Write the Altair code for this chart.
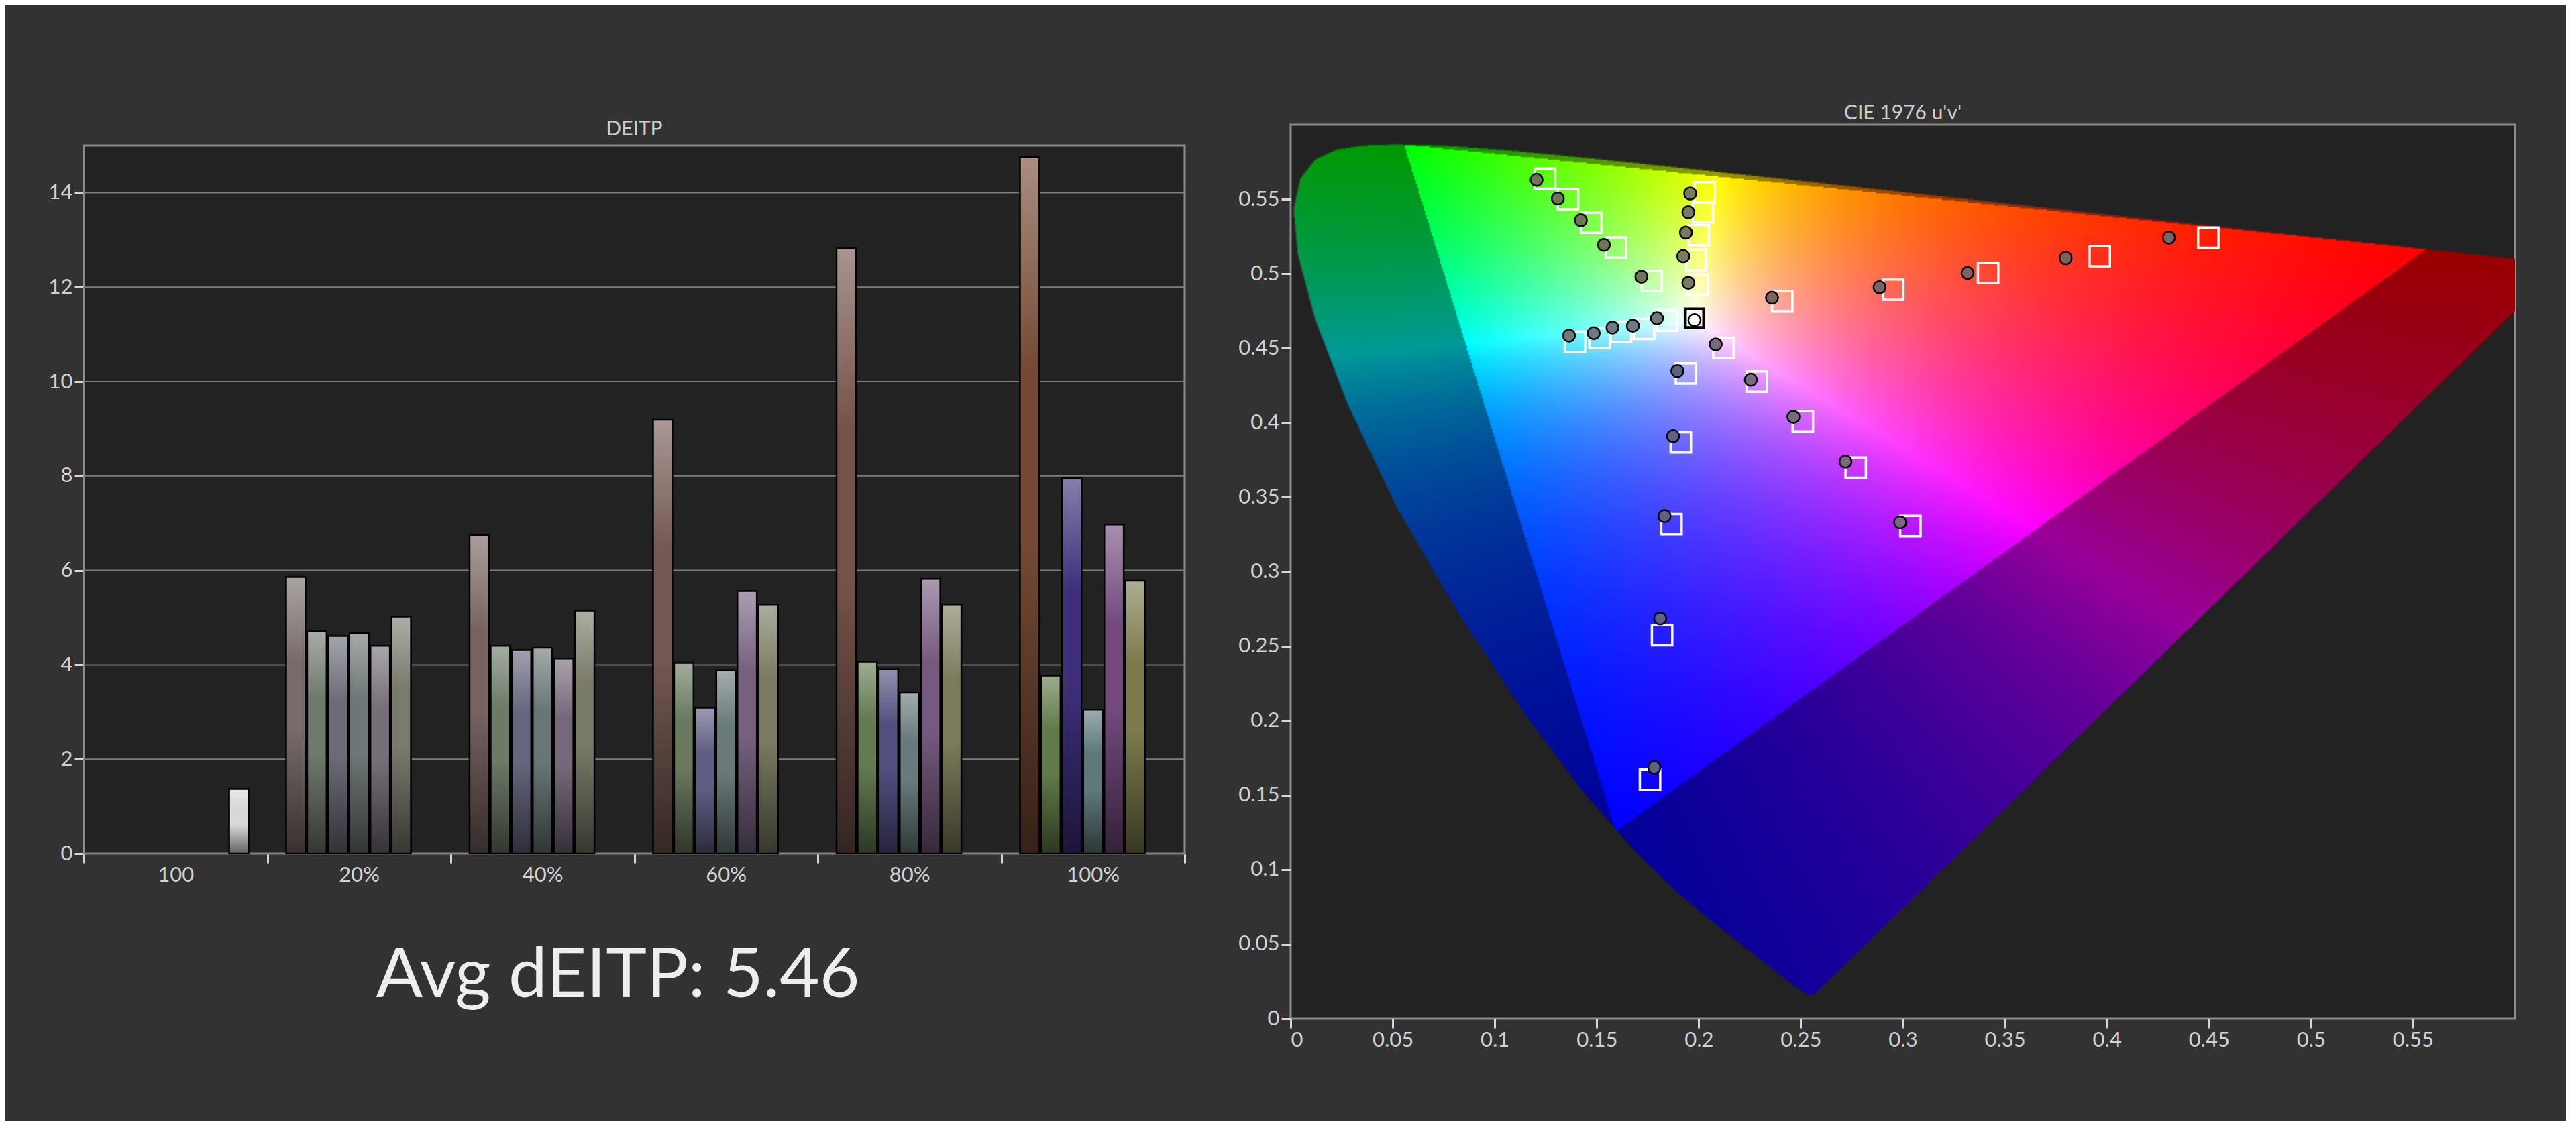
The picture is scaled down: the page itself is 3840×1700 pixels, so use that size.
import numpy as np
import pandas as pd
import altair as alt
import zlib, struct, base64

# ---------------- DEITP bar chart data ----------------
groups = ["100", "20%", "40%", "60%", "80%", "100%"]
series = ["Red", "Green", "Blue", "Cyan", "Magenta", "Yellow", "White"]
sat_groups = ["20%", "40%", "60%", "80%", "100%"]
white_100 = [1.37]
red_vals = [5.86, 6.75, 9.19, 12.83, 14.76]
green_vals = [4.72, 4.40, 4.04, 4.07, 3.77]
blue_vals = [4.61, 4.31, 3.09, 3.91, 7.95]
cyan_vals = [4.67, 4.36, 3.88, 3.41, 3.05]
magenta_vals = [4.40, 4.13, 5.56, 5.82, 6.97]
yellow_vals = [5.02, 5.15, 5.28, 5.28, 5.78]
y_ticks = [0, 2, 4, 6, 8, 10, 12, 14]
avg_label = "Avg dEITP: 5.46"
left_title = "DEITP"
right_title = "CIE 1976 u'v'"

bar_colors = {
    "20%":  ["#786c6a", "#717a6f", "#6c6c78", "#6e7676", "#766e78", "#7a7a6e"],
    "40%":  ["#776260", "#6c7a66", "#66667e", "#6a7676", "#76687a", "#7a7a68"],
    "60%":  ["#745852", "#6a785e", "#605e84", "#6a7a7a", "#766280", "#7a7a62"],
    "80%":  ["#74524a", "#647a52", "#524e80", "#687a7c", "#765a7e", "#7c7c5a"],
    "100%": ["#744a34", "#627a48", "#3e2e7a", "#60787c", "#744a7e", "#7c7a4c"],
}
white_bar_color = "#d8d8d8"

# ---------------- CIE 1976 u'v' data ----------------
uv_ticks = [0, 0.05, 0.1, 0.15, 0.2, 0.25, 0.3, 0.35, 0.4, 0.45, 0.5, 0.55]

red_target_u = [0.2409, 0.2953, 0.3418, 0.3965, 0.4497]
red_target_v = [0.4814, 0.4893, 0.5005, 0.5118, 0.5242]
red_meas_u = [0.2359, 0.2886, 0.3317, 0.3798, 0.4304]
red_meas_v = [0.4839, 0.4909, 0.5005, 0.5105, 0.5242]

green_target_u = [0.1769, 0.1594, 0.1472, 0.1359, 0.1247]
green_target_v = [0.4951, 0.5176, 0.5342, 0.5501, 0.5638]
green_meas_u = [0.1719, 0.1535, 0.1422, 0.1309, 0.1205]
green_meas_v = [0.4980, 0.5193, 0.5359, 0.5505, 0.5630]

blue_target_u = [0.1937, 0.1912, 0.1866, 0.1820, 0.1761]
blue_target_v = [0.4331, 0.3868, 0.3319, 0.2573, 0.1603]
blue_meas_u = [0.1895, 0.1874, 0.1832, 0.1811, 0.1782]
blue_meas_v = [0.4347, 0.3910, 0.3373, 0.2686, 0.1686]

cyan_target_u = [0.1845, 0.1732, 0.1619, 0.1514, 0.1393]
cyan_target_v = [0.4685, 0.4630, 0.4610, 0.4568, 0.4543]
cyan_meas_u = [0.1795, 0.1677, 0.1577, 0.1485, 0.1364]
cyan_meas_v = [0.4701, 0.4651, 0.4639, 0.4601, 0.4585]

magenta_target_u = [0.2121, 0.2284, 0.2510, 0.2769, 0.3037]
magenta_target_v = [0.4501, 0.4276, 0.4010, 0.3698, 0.3306]
magenta_meas_u = [0.2083, 0.2255, 0.2464, 0.2719, 0.2987]
magenta_meas_v = [0.4526, 0.4289, 0.4039, 0.3739, 0.3331]

yellow_target_u = [0.1995, 0.1987, 0.1999, 0.2020, 0.2029]
yellow_target_v = [0.4926, 0.5093, 0.5259, 0.5413, 0.5546]
yellow_meas_u = [0.1949, 0.1924, 0.1937, 0.1949, 0.1958]
yellow_meas_v = [0.4939, 0.5118, 0.5276, 0.5413, 0.5538]

white_target_u = [0.1979]
white_target_v = [0.4701]
white_meas_u = [0.1979]
white_meas_v = [0.4689]

meas_colors = ["#7a6462", "#6e7658", "#5e6280", "#6a7a7e", "#7a6a7e", "#7c7a5e", "#ffffff"]

# CIE 1931 2-degree spectral locus (x, y), 380-700 nm
locus_x = [0.1741, 0.1740, 0.1738, 0.1736, 0.1733, 0.1730, 0.1726, 0.1721, 0.1714, 0.1703,
           0.1689, 0.1669, 0.1644, 0.1611, 0.1566, 0.1510, 0.1440, 0.1355, 0.1241, 0.1096,
           0.0913, 0.0687, 0.0454, 0.0235, 0.0082, 0.0039, 0.0139, 0.0389, 0.0743, 0.1142,
           0.1547, 0.1929, 0.2296, 0.2658, 0.3016, 0.3373, 0.3731, 0.4087, 0.4441, 0.4788,
           0.5125, 0.5448, 0.5752, 0.6029, 0.6270, 0.6482, 0.6658, 0.6801, 0.6915, 0.7006,
           0.7079, 0.7140, 0.7190, 0.7230, 0.7260, 0.7283, 0.7300, 0.7311, 0.7320, 0.7334,
           0.7344, 0.7347]
locus_y = [0.0050, 0.0050, 0.0049, 0.0049, 0.0048, 0.0048, 0.0048, 0.0048, 0.0051, 0.0058,
           0.0069, 0.0086, 0.0109, 0.0138, 0.0177, 0.0227, 0.0297, 0.0399, 0.0578, 0.0868,
           0.1327, 0.2007, 0.2950, 0.4127, 0.5384, 0.6548, 0.7502, 0.8120, 0.8338, 0.8262,
           0.8059, 0.7816, 0.7543, 0.7243, 0.6923, 0.6589, 0.6245, 0.5896, 0.5547, 0.5202,
           0.4866, 0.4544, 0.4242, 0.3965, 0.3725, 0.3514, 0.3340, 0.3197, 0.3083, 0.2993,
           0.2920, 0.2859, 0.2809, 0.2770, 0.2740, 0.2717, 0.2700, 0.2689, 0.2680, 0.2666,
           0.2656, 0.2653]


# ---------------- gamut background image ----------------
def gamut_png(iw, ih, ss=2, umax=0.6, vmax=0.6):
    lx = np.array(locus_x); ly = np.array(locus_y)
    d = -2 * lx + 12 * ly + 3
    lu = 4 * lx / d; lv = 9 * ly / d
    su = (np.arange(iw * ss) + 0.5) / (iw * ss) * umax
    sv = vmax - (np.arange(ih * ss) + 0.5) / (ih * ss) * vmax
    SU, SV = np.meshgrid(su, sv)
    inside = np.zeros(SU.shape, bool)
    n = len(lu); j = n - 1
    for i in range(n):
        ui, vi, uj, vj = lu[i], lv[i], lu[j], lv[j]
        if vi != vj:
            cond = ((vi > SV) != (vj > SV)) & (SU < (uj - ui) * (SV - vi) / (vj - vi) + ui)
            inside ^= cond
        j = i
    cov = inside.reshape(ih, ss, iw, ss).mean(axis=(1, 3))
    pu = (np.arange(iw) + 0.5) / iw * umax
    pv = vmax - (np.arange(ih) + 0.5) / ih * vmax
    U, V = np.meshgrid(pu, pv)
    den = 6 * U - 16 * V + 12
    xx = 9 * U / den
    yy = np.clip(4 * V / den, 1e-4, None)
    X = xx / yy; Z = (1 - xx - yy) / yy
    R = 1.7166512 * X - 0.3556708 - 0.2533663 * Z
    G = -0.6666844 * X + 1.6164812 + 0.0157685 * Z
    B = 0.0176399 * X - 0.0427706 + 0.9421031 * Z
    rgb = np.stack([R, G, B], -1)
    intri = rgb.min(-1) >= 0
    rgb = np.clip(rgb, 0, None)
    mx = rgb.max(-1, keepdims=True)
    mx[mx <= 0] = 1
    rgb = rgb / mx
    rgb[~intri] *= 0.6
    rgba = np.zeros((ih, iw, 4), np.uint8)
    rgba[..., :3] = np.clip(rgb * 255 + 0.5, 0, 255).astype(np.uint8)
    rgba[..., 3] = np.clip(cov * 255 + 0.5, 0, 255).astype(np.uint8)
    raw = b"".join(b"\x00" + rgba[r].tobytes() for r in range(ih))

    def chunk(t, dat):
        c = struct.pack(">I", len(dat)) + t + dat
        return c + struct.pack(">I", zlib.crc32(t + dat) & 0xFFFFFFFF)

    png = (b"\x89PNG\r\n\x1a\n"
           + chunk(b"IHDR", struct.pack(">IIBBBBB", iw, ih, 8, 6, 0, 0, 0))
           + chunk(b"IDAT", zlib.compress(raw, 9))
           + chunk(b"IEND", b""))
    return "data:image/png;base64," + base64.b64encode(png).decode("ascii")


# ---------------- layout constants ----------------
LW = 1641          # left plot width
LTOP = 31          # left frame starts this far below the shared row top
LH = 1087          # left view height (frame = LTOP..LH)
RW, RH = 1825, 1333
FONT = "Lato"
LABEL = "#d2d2d2"
PAGE_BG = "#323232"
PLOT_BG = "#222222"
FRAME = "#8c8c8c"

# ---------------- bars ----------------
rows = [{"group": "100", "series": "White", "value": white_100[0], "key": "100|White"}]
all_vals = [red_vals, green_vals, blue_vals, cyan_vals, magenta_vals, yellow_vals]
for gi, g in enumerate(sat_groups):
    for si, s in enumerate(series[:6]):
        rows.append({"group": g, "series": s, "value": all_vals[si][gi], "key": g + "|" + s})
bars_df = pd.DataFrame(rows)
keys = ["100|White"] + [g + "|" + s for g in sat_groups for s in series[:6]]
key_colors = [white_bar_color] + [bar_colors[g][i] for g in sat_groups for i in range(6)]

xenc = alt.X("group:N", sort=groups,
             scale=alt.Scale(domain=groups, paddingInner=0, paddingOuter=0),
             axis=alt.Axis(title=None, labelAngle=0, tickBand="extent", grid=False, domain=False))
xoff = alt.XOffset("series:N", scale=alt.Scale(domain=series, paddingInner=0.08, paddingOuter=0.89))
yscale = alt.Scale(domain=[0, 15], range=[LH, LTOP], nice=False)
yaxis = alt.Axis(title=None, values=y_ticks, grid=False, domain=False)
yenc = alt.Y("value:Q", scale=yscale, axis=yaxis)

grad = alt.Gradient(
    gradient="linear", x1=0, y1=0, x2=0, y2=1,
    stops=[
        alt.GradientStop(color="rgba(255,255,255,0.38)", offset=0),
        alt.GradientStop(color="rgba(255,255,255,0)", offset=0.3),
        alt.GradientStop(color="rgba(0,0,0,0)", offset=0.55),
        alt.GradientStop(color="rgba(0,0,0,0.55)", offset=1),
    ],
)

one = pd.DataFrame({"s": [0]})
plot_bg = alt.Chart(one).mark_rect(fill=PLOT_BG, stroke=FRAME, strokeWidth=3).encode(
    x=alt.value(0), x2=alt.value(LW), y=alt.value(LTOP), y2=alt.value(LH)
)
grid = alt.Chart(pd.DataFrame({"t": y_ticks})).mark_rule(color="#7d7d7d", strokeWidth=2).encode(
    y=alt.Y("t:Q", scale=yscale, axis=yaxis), x=alt.value(0), x2=alt.value(LW)
)
bar_base = alt.Chart(bars_df)
fill_bars = bar_base.mark_bar().encode(
    x=xenc, xOffset=xoff, y=yenc,
    color=alt.Color("key:N", scale=alt.Scale(domain=keys, range=key_colors), legend=None),
)
shade_bars = bar_base.mark_bar(fill=grad, stroke="#000000", strokeWidth=2.5).encode(
    x=xenc, xOffset=xoff, y=yenc
)
title_text = alt.Chart(pd.DataFrame({"t": [left_title]})).mark_text(
    font=FONT, fontSize=30, color="#cfcfcf", align="center", baseline="middle"
).encode(text="t:N", x=alt.value(LW / 2), y=alt.value(LTOP - 24))
big_text = alt.Chart(pd.DataFrame({"t": [avg_label]})).mark_text(
    font=FONT, fontSize=103, color="#eeeeee", align="center", baseline="alphabetic"
).encode(text="t:N", x=alt.value(796), y=alt.value(LH + 214))

left = alt.layer(plot_bg, grid, fill_bars, shade_bars, title_text, big_text).properties(
    width=LW, height=LH,
    view=alt.ViewBackground(fill="transparent", stroke="transparent"),
)

# ---------------- CIE diagram ----------------
gamut_df = pd.DataFrame({"u0": [0.0], "u1": [0.6], "v0": [0.0], "v1": [0.6],
                         "url": [gamut_png(910, 664)]})

uscale = alt.Scale(domain=[0, 0.6], nice=False, zero=False)
vscale = alt.Scale(domain=[0, 0.6], nice=False, zero=False)
uaxis = alt.Axis(title=None, values=uv_ticks, format=".2~f", grid=False, domain=False)
vaxis = alt.Axis(title=None, values=uv_ticks, format=".2~f", grid=False, domain=False)

tgt = {"Red": (red_target_u, red_target_v), "Green": (green_target_u, green_target_v),
       "Blue": (blue_target_u, blue_target_v), "Cyan": (cyan_target_u, cyan_target_v),
       "Magenta": (magenta_target_u, magenta_target_v), "Yellow": (yellow_target_u, yellow_target_v)}
mea = {"Red": (red_meas_u, red_meas_v), "Green": (green_meas_u, green_meas_v),
       "Blue": (blue_meas_u, blue_meas_v), "Cyan": (cyan_meas_u, cyan_meas_v),
       "Magenta": (magenta_meas_u, magenta_meas_v), "Yellow": (yellow_meas_u, yellow_meas_v),
       "White": (white_meas_u, white_meas_v)}
trows = [{"u": u, "v": v, "series": s} for s, (us, vs) in tgt.items() for u, v in zip(us, vs)]
mrows = [{"u": u, "v": v, "series": s} for s, (us, vs) in mea.items() for u, v in zip(us, vs)]
targets_df = pd.DataFrame(trows)
meas_df = pd.DataFrame(mrows)
white_t_df = pd.DataFrame({"u": white_target_u, "v": white_target_v})

img = alt.Chart(gamut_df).mark_image(aspect=False).encode(
    x=alt.X("u0:Q", scale=uscale, axis=uaxis), x2="u1:Q",
    y=alt.Y("v1:Q", scale=vscale, axis=vaxis), y2="v0:Q",
    url="url:N",
)
squares = alt.Chart(targets_df).mark_point(
    shape="square", filled=False, size=920, strokeWidth=3.5, color="#ffffff", opacity=1
).encode(x=alt.X("u:Q", scale=uscale, axis=uaxis), y=alt.Y("v:Q", scale=vscale, axis=vaxis))
white_sq = alt.Chart(white_t_df).mark_point(
    shape="square", filled=False, size=760, strokeWidth=4.5, color="#000000", opacity=1
).encode(x=alt.X("u:Q", scale=uscale, axis=uaxis), y=alt.Y("v:Q", scale=vscale, axis=vaxis))
circles = alt.Chart(meas_df).mark_point(
    shape="circle", filled=True, size=330, stroke="#000000", strokeWidth=2.5, opacity=1
).encode(
    x=alt.X("u:Q", scale=uscale, axis=uaxis), y=alt.Y("v:Q", scale=vscale, axis=vaxis),
    fill=alt.Fill("series:N", scale=alt.Scale(domain=series, range=meas_colors), legend=None),
)

right = alt.layer(img, squares, white_sq, circles).properties(
    width=RW, height=RH,
    title=alt.TitleParams(right_title, frame="group", offset=2, anchor="middle"),
)

chart = alt.hconcat(left, right, spacing=75).resolve_scale(
    color="independent", fill="independent"
).properties(
    padding={"left": 62, "top": 144, "right": 74, "bottom": 104}
).configure(background=PAGE_BG).configure_view(
    fill=PLOT_BG, stroke=FRAME, strokeWidth=3
).configure_axis(
    labelFont=FONT, labelFontSize=31, labelColor=LABEL, tickColor="#d6d6d6",
    tickWidth=3, tickSize=14, labelPadding=3
).configure_title(
    font=FONT, fontSize=30, color="#cfcfcf", fontWeight="normal"
)

chart.save("out.html", embed_options={"renderer": "svg", "actions": False})
